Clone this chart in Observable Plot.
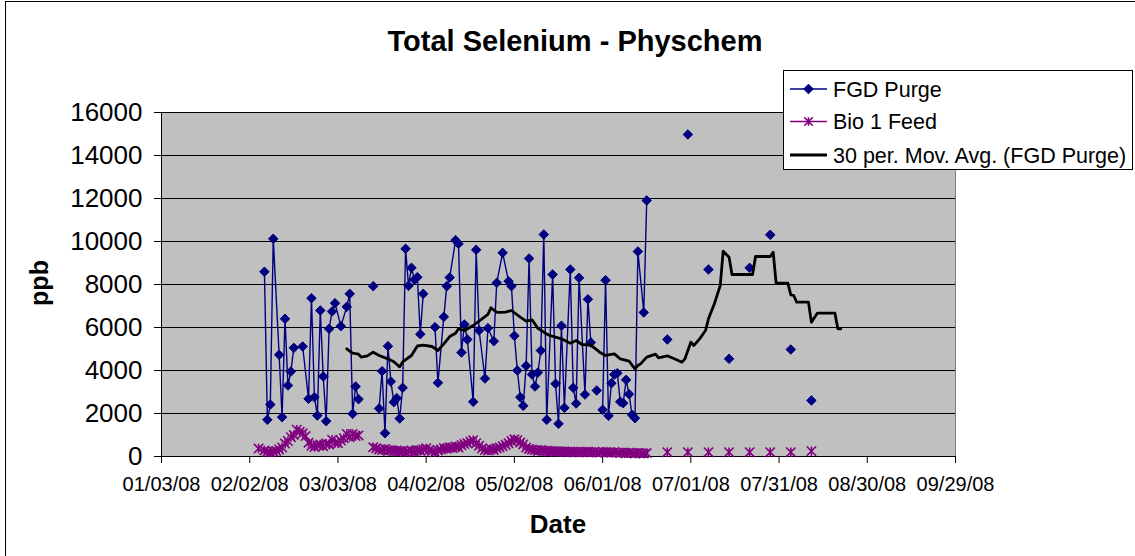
<!DOCTYPE html>
<html><head><meta charset="utf-8">
<script src="https://cdn.jsdelivr.net/npm/d3@7"></script>
<script src="https://cdn.jsdelivr.net/npm/@observablehq/plot@0.6"></script>
<style>
body{margin:0;background:#fff;}
#wrap{position:relative;width:1135px;height:556px;overflow:hidden;font-family:"Liberation Sans",Arial,sans-serif;color:#000;}
#border{position:absolute;left:5px;top:1px;width:1200px;height:700px;border-left:1px solid #000;border-top:1px solid #000;}
#plot{position:absolute;left:0;top:0;}
#over{position:absolute;left:0;top:0;}
</style></head>
<body><div id="wrap"><div id="border"></div><div id="plot"></div><svg id="over" width="1135" height="556"></svg></div>
<script>
const fgdDates = [
"2008-02-07","2008-02-08","2008-02-09","2008-02-10","2008-02-12","2008-02-13","2008-02-14","2008-02-15","2008-02-16","2008-02-17",
"2008-02-20","2008-02-22","2008-02-23","2008-02-24","2008-02-25","2008-02-26","2008-02-27","2008-02-28","2008-02-29","2008-03-01",
"2008-03-02","2008-03-04","2008-03-06","2008-03-07","2008-03-08","2008-03-09","2008-03-10",null,
"2008-03-15",null,
"2008-03-17","2008-03-18","2008-03-19","2008-03-20","2008-03-21","2008-03-22","2008-03-23","2008-03-24","2008-03-25","2008-03-26",
"2008-03-27","2008-03-28","2008-03-29","2008-03-30","2008-03-31","2008-04-01",null,
"2008-04-05","2008-04-06","2008-04-08","2008-04-09","2008-04-10","2008-04-12","2008-04-13","2008-04-14","2008-04-15","2008-04-16",
"2008-04-18","2008-04-19","2008-04-20","2008-04-22","2008-04-23","2008-04-25","2008-04-26","2008-04-28","2008-04-30","2008-05-01",
"2008-05-02","2008-05-03","2008-05-04","2008-05-05","2008-05-06","2008-05-07","2008-05-08","2008-05-09","2008-05-10","2008-05-11",
"2008-05-12","2008-05-13","2008-05-15","2008-05-16","2008-05-17","2008-05-18","2008-05-19","2008-05-21","2008-05-22","2008-05-23",
"2008-05-24","2008-05-26","2008-05-27","2008-05-28",null,
"2008-05-30",null,
"2008-06-01","2008-06-02","2008-06-03","2008-06-04","2008-06-05","2008-06-06","2008-06-07","2008-06-08","2008-06-09","2008-06-10",
"2008-06-11","2008-06-12","2008-06-13","2008-06-15","2008-06-16",null,
"2008-06-23",null,"2008-06-30",null,"2008-07-07",null,"2008-07-14",null,"2008-07-21",null,"2008-07-28",null,"2008-08-04",null,"2008-08-11"
];
const fgdValues = [
8590,1707,2418,10125,4730,1830,6404,3302,3953,5054,
5116,2683,7364,2760,1907,6791,3721,1643,5938,6744,
7131,6062,6961,7566,1984,3256,2667,null,
7922,null,
2232,3969,1085,5131,3488,2527,2713,1767,3194,9660,
7938,8775,8217,8341,5690,7566,null,
6016,3426,6496,7922,8326,10062,9892,4837,6140,5442,
2543,9613,5860,3628,5969,5364,8078,9473,8155,7922,
5612,4000,2760,2357,4217,9209,3814,3256,3907,4930,
10326,1707,8465,3380,1520,6078,2264,8698,3194,2465,
8310,2883,7310,5302,null,
3070,null,
2171,8200,1891,3409,3814,3876,2543,2481,3566,2899,
1938,1783,9535,6698,11907,null,
5442,null,14977,null,8698,null,4543,null,8775,null,10310,null,4977,null,2605
];
const bioDates = [
"2008-02-05","2008-02-07","2008-02-08","2008-02-09","2008-02-10","2008-02-11","2008-02-12","2008-02-13","2008-02-14","2008-02-15",
"2008-02-16","2008-02-17","2008-02-18","2008-02-19","2008-02-20","2008-02-21","2008-02-22","2008-02-23","2008-02-24","2008-02-25",
"2008-02-26","2008-02-27","2008-02-28","2008-02-29","2008-03-01","2008-03-02","2008-03-03","2008-03-04","2008-03-05","2008-03-06",
"2008-03-07","2008-03-08","2008-03-09","2008-03-10",null,
"2008-03-15","2008-03-16","2008-03-17","2008-03-18","2008-03-19","2008-03-20","2008-03-21","2008-03-22","2008-03-23","2008-03-24",
"2008-03-25","2008-03-26","2008-03-27","2008-03-28","2008-03-29","2008-03-30","2008-03-31",
"2008-04-01","2008-04-02","2008-04-03","2008-04-04","2008-04-05","2008-04-06","2008-04-07","2008-04-08","2008-04-09","2008-04-10",
"2008-04-11","2008-04-12","2008-04-13","2008-04-14","2008-04-15","2008-04-16","2008-04-17","2008-04-18","2008-04-19","2008-04-20",
"2008-04-21","2008-04-22","2008-04-23","2008-04-24","2008-04-25","2008-04-26","2008-04-27","2008-04-28","2008-04-29","2008-04-30",
"2008-05-01","2008-05-02","2008-05-03","2008-05-04","2008-05-05","2008-05-06","2008-05-07","2008-05-08","2008-05-09","2008-05-10",
"2008-05-11","2008-05-12","2008-05-13","2008-05-14","2008-05-15","2008-05-16","2008-05-17","2008-05-18","2008-05-19","2008-05-20",
"2008-05-21","2008-05-22","2008-05-23","2008-05-24","2008-05-25","2008-05-26","2008-05-27","2008-05-28","2008-05-29","2008-05-30",
"2008-05-31",
"2008-06-01","2008-06-02","2008-06-03","2008-06-04","2008-06-05","2008-06-06","2008-06-07","2008-06-08","2008-06-09","2008-06-10",
"2008-06-11","2008-06-12","2008-06-13","2008-06-14","2008-06-15","2008-06-16",null,
"2008-06-23",null,"2008-06-30",null,"2008-07-07",null,"2008-07-14",null,"2008-07-21",null,"2008-07-28",null,"2008-08-04",null,"2008-08-11"
];
const bioValues = [
370,280,220,200,230,260,330,420,600,720,
900,1000,1250,1150,1080,950,640,500,440,520,
560,480,600,560,780,640,620,740,850,1050,
900,1050,950,980,null,
430,380,330,300,350,260,300,240,280,230,
260,200,250,280,220,300,260,
330,380,300,260,200,280,330,400,360,430,
400,470,420,520,580,620,700,760,620,500,
380,300,280,350,300,380,420,480,550,620,
720,800,760,650,560,420,350,330,300,260,
300,250,280,230,260,220,250,210,240,200,
230,200,220,190,220,200,230,190,210,180,
200,
220,180,200,170,210,180,160,190,150,180,
160,140,170,150,140,160,null,
200,null,200,null,200,null,200,null,200,null,200,null,200,null,250
];
const maDates = [
"2008-03-06","2008-03-07","2008-03-08","2008-03-10","2008-03-11","2008-03-13","2008-03-15","2008-03-17","2008-03-20","2008-03-22",
"2008-03-24","2008-03-25","2008-03-28","2008-03-30","2008-04-01","2008-04-04","2008-04-06","2008-04-08","2008-04-10","2008-04-12",
"2008-04-13","2008-04-15","2008-04-18","2008-04-21","2008-04-23","2008-04-24","2008-04-26","2008-04-27","2008-04-29","2008-05-01",
"2008-05-04","2008-05-06","2008-05-08","2008-05-10","2008-05-13","2008-05-14","2008-05-16","2008-05-18","2008-05-21","2008-05-23",
"2008-05-25","2008-05-28","2008-05-31","2008-06-02","2008-06-05","2008-06-07","2008-06-10","2008-06-12","2008-06-13","2008-06-14",
"2008-06-16","2008-06-19","2008-06-20","2008-06-23","2008-06-25","2008-06-28","2008-06-29","2008-07-01","2008-07-02","2008-07-04",
"2008-07-06","2008-07-07","2008-07-09","2008-07-11","2008-07-12","2008-07-14","2008-07-15","2008-07-22","2008-07-23","2008-07-28",
"2008-07-29","2008-07-30","2008-08-03","2008-08-04","2008-08-05","2008-08-06","2008-08-10","2008-08-11","2008-08-13","2008-08-19",
"2008-08-20","2008-08-21"
];
const maValues = [
5007,4900,4806,4760,4620,4680,4852,4698,4543,4410,
4170,4400,4698,5140,5180,5116,4930,5240,5581,5736,
5938,5860,6093,6404,6605,6915,6713,6700,6713,6791,
6480,6295,6357,5960,5700,5628,5550,5473,5271,5395,
5209,5180,4852,4698,4775,4543,4434,4078,4233,4320,
4620,4760,4590,4680,4570,4388,4543,5318,5163,5473,
5860,6404,7101,7953,9551,9271,8465,8465,9302,9302,
9504,8062,8062,7521,7488,7177,7177,6248,6667,6667,
5938,5938
];
const xTicks = ["2008-01-03","2008-02-02","2008-03-03","2008-04-02","2008-05-02","2008-06-01","2008-07-01","2008-07-31","2008-08-30","2008-09-29"];
const yTicks = [0,2000,4000,6000,8000,10000,12000,14000,16000];
const seriesNames = ["FGD Purge","Bio 1 Feed","30 per. Mov. Avg. (FGD Purge)"];
const titleText = "Total Selenium - Physchem";
const xLabel = "Date", yLabel = "ppb";

const rows = (ds, vs) => ds.map((d, i) => ({date: d == null ? null : new Date(d), value: vs[i]}));
const fgd = rows(fgdDates, fgdValues);
const bio = rows(bioDates, bioValues);
const ma = rows(maDates, maValues);
const xt = xTicks.map(d => new Date(d));
const FONT = "'Liberation Sans', Arial, sans-serif";

// Excel-style star marker: an X with a vertical bar
const excelStar = {
  draw(context, size) {
    const r = Math.sqrt(size) * 0.6;
    context.moveTo(-r, -r); context.lineTo(r, r);
    context.moveTo(-r, r); context.lineTo(r, -r);
    context.moveTo(0, -r); context.lineTo(0, r);
  }
};

const chart = Plot.plot({
  width: 1135, height: 556,
  marginLeft: 161, marginRight: 180, marginTop: 112, marginBottom: 100,
  style: {background: "transparent", fontFamily: FONT, color: "#000", overflow: "visible"},
  x: {type: "utc", domain: [xt[0], xt[xt.length - 1]]},
  y: {domain: [0, 16000]},
  marks: [
    Plot.frame({fill: "#c0c0c0", stroke: "#808080"}),
    Plot.gridY(yTicks.slice(1), {stroke: "#000", strokeOpacity: 1}),
    Plot.ruleY([0], {stroke: "#000"}),
    Plot.ruleX([xt[0]], {stroke: "#000"}),
    Plot.axisY(yTicks, {tickSize: 7, tickPadding: 12, fontSize: 26, tickFormat: d => String(d), label: null, stroke: "#000"}),
    Plot.axisX(xt, {tickSize: 7, tickPadding: 13, fontSize: 20, tickFormat: d3.utcFormat("%m/%d/%y"), label: null, stroke: "#000"}),
    Plot.line(fgd, {x: "date", y: "value", stroke: "#000080", strokeWidth: 1.4}),
    Plot.dot(fgd, {x: "date", y: "value", symbol: "diamond2", r: 4.3, fill: "#000080", stroke: "#000080", strokeWidth: 1}),
    Plot.line(bio, {x: "date", y: "value", stroke: "#800080", strokeWidth: 1.4}),
    Plot.dot(bio, {x: "date", y: "value", symbol: excelStar, r: 4.4, fill: "none", stroke: "#800080", strokeWidth: 1.6}),
    Plot.line(ma, {x: "date", y: "value", stroke: "#000", strokeWidth: 2.8})
  ]
});
document.getElementById("plot").appendChild(chart);

// overlay: title, axis titles, legend
const svg = d3.select("#over").style("font-family", FONT);
svg.append("text").attr("x", 575).attr("y", 51).attr("text-anchor", "middle")
  .attr("font-weight", "bold").attr("font-size", 29).text(titleText);
svg.append("text").attr("x", 558).attr("y", 533).attr("text-anchor", "middle")
  .attr("font-weight", "bold").attr("font-size", 26).text(xLabel);
svg.append("text").attr("transform", "translate(48,283) rotate(-90)").attr("text-anchor", "middle")
  .attr("font-weight", "bold").attr("font-size", 25).text(yLabel);

const lg = svg.append("g").attr("transform", "translate(783,70)");
lg.append("rect").attr("x", 0.5).attr("y", 0.5).attr("width", 349).attr("height", 99)
  .attr("fill", "#fff").attr("stroke", "#000");
const rowsY = [19, 51.5, 85];
const cols = ["#000080", "#800080", "#000"];
rowsY.forEach((yy, i) => {
  lg.append("line").attr("x1", 7).attr("x2", 44).attr("y1", yy).attr("y2", yy)
    .attr("stroke", cols[i]).attr("stroke-width", i === 2 ? 2.8 : 1.4);
  if (i === 0) lg.append("path").attr("d", d3.symbol(d3.symbolDiamond2, 60)()).attr("transform", `translate(25.5,${yy})`).attr("fill", cols[0]).attr("stroke", cols[0]);
  if (i === 1) lg.append("path").attr("d", d3.symbol(excelStar, 50)()).attr("transform", `translate(25.5,${yy})`).attr("fill", "none").attr("stroke", cols[1]).attr("stroke-width", 1.6);
  lg.append("text").attr("x", 50).attr("y", yy + 7.8).attr("font-size", 21.5).text(seriesNames[i]);
});
</script></body></html>
